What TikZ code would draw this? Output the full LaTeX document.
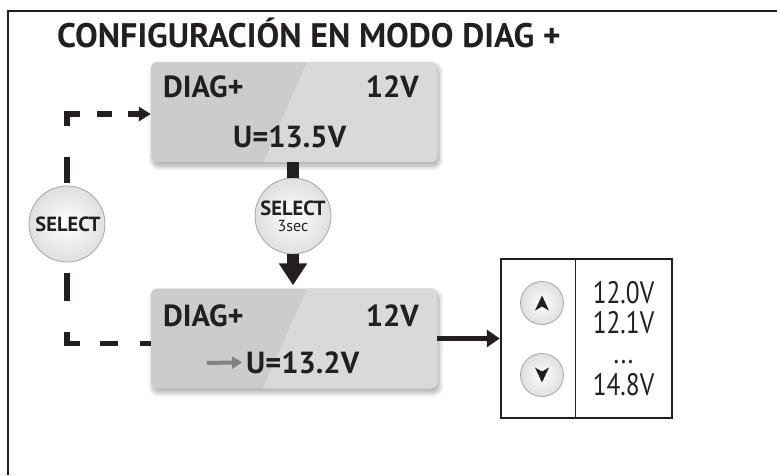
\documentclass[tikz,border=0pt]{standalone}
\usepackage{fontspec}
\setmainfont{PT Sans}
\usetikzlibrary{arrows.meta,shadows.blur,calc}
\definecolor{ink}{HTML}{231F20}
\definecolor{lcdA}{HTML}{CBCCCE}
\definecolor{lcdB}{HTML}{D8D9DB}
\definecolor{grayarr}{HTML}{808285}
\tikzset{
  lcd/.style={rectangle, rounded corners=6pt, minimum width=286pt, minimum height=100pt, inner sep=0pt, fill=lcdA,
    blur shadow={shadow xshift=2pt, shadow yshift=-4pt, shadow blur steps=10, shadow opacity=35, shadow blur radius=5pt}},
  btn/.style={circle, draw=gray!70, line width=0.8pt, inner color=white, outer color=gray!25, inner sep=0pt, text=ink},
  lcdtxt/.style={font=\fontsize{30.5}{30}\selectfont\bfseries, text=ink, inner sep=0pt},
  lsttxt/.style={font=\fontsize{31}{31}\selectfont, text=ink, inner sep=0pt, anchor=base},
  btntxt/.style={font=\fontsize{20.5}{20}\selectfont\bfseries, text=ink, inner sep=0pt, anchor=base},
  dashln/.style={draw=ink, line width=5.5pt, line cap=butt, miter limit=10},
  thick arrow/.style={draw=ink, line width=12pt},
}
\begin{document}
\begin{tikzpicture}[x=1pt,y=-1pt]
\useasboundingbox (0,0) rectangle (777,475);
% frame
\draw[ink, line width=2.5pt] (777,11) -- (8,11) -- (8,475);
% title
\node[anchor=base west, font=\fontsize{34}{34}\selectfont\bfseries, text=ink, inner sep=0pt] (title) at (57,47) {CONFIGURACIÓN EN MODO DIAG +};

% upper display
\node[lcd] (lcd1) at (294,112) {};
\begin{scope}
  \clip[rounded corners=6pt] (lcd1.south west) rectangle (lcd1.north east);
  \fill[lcdB] (312,50) -- (258,175) -- (450,175) -- (450,50) -- cycle;
\end{scope}
\node[lcdtxt, anchor=base west] (d1) at (163,97) {DIAG+};
\node[lcdtxt, anchor=base east] (v1) at (419,97) {12V};
\node[lcdtxt, anchor=base west] (u1) at (233,147) {U=13.5V};

% lower display
\node[lcd] (lcd2) at (294,338.5) {};
\begin{scope}
  \clip[rounded corners=6pt] (lcd2.south west) rectangle (lcd2.north east);
  \fill[lcdB] (312,277) -- (258,400) -- (450,400) -- (450,277) -- cycle;
\end{scope}
\node[lcdtxt, anchor=base west] (d2) at (163,326) {DIAG+};
\node[lcdtxt, anchor=base east] (v2) at (419,326) {12V};
\node[lcdtxt, anchor=base west] (u2) at (246,373) {U=13.2V};
\coordinate (ga) at (207,363);
\draw[grayarr, line width=4pt, -{Triangle[length=10pt,width=12pt]}] (ga) -- ([xshift=-4pt]u2.west);

% select 3 sec button
\node[btn, minimum size=76pt] (s2) at (293,216) {};
\node[btntxt] (s2a) at (293,215) {SELECT};
\node[btntxt, font=\fontsize{16}{16}\selectfont] (s2b) at (293,231) {3sec};
\draw[thick arrow] (s2.north) -- (s2.north |- lcd1.south);
\draw[thick arrow, -{Triangle[length=22pt,width=27pt]}, shorten >=3pt] (s2.south) -- (s2.south |- lcd2.north);

% left select button
\node[btn, minimum size=76pt] (s1) at (67,224) {};
\node[btntxt] (s1a) at (68,231) {SELECT};
\draw[dashln, dash pattern=on 0pt off 3pt on 26pt off 31pt on 25pt off 17pt on 15pt off 16pt on 60pt,
      -{Triangle[length=12pt,width=14pt]}]
  (s1.north) |- ([yshift=-2pt]lcd1.west);
\draw[dashln, dash pattern=on 0pt off 11pt on 28pt off 31pt on 24.5pt off 20pt on 18pt off 22pt on 40pt]
  (s1.south) |- ([yshift=-5pt]lcd2.west);

% list box
\node[draw=ink, line width=2.5pt, minimum width=171pt, minimum height=159pt, inner sep=0pt] (list) at (586.5,338.5) {};
\coordinate (dv) at (575,0);
\draw[ink, line width=1pt] (list.north -| dv) -- (list.south -| dv);
\draw[ink, line width=5.5pt, -{Triangle[length=13pt,width=17pt]}] (lcd2.east) -- (lcd2.east -| list.west);

\node[btn, minimum size=43pt] (up) at (542,303) {};
\node[btn, minimum size=43pt] (dn) at (542,375) {};
\fill[ink] ($(up.center)+(0,-7.5)$) -- ++(7,15) -- ++(-7,-4) -- ++(-7,4) -- cycle;
\fill[ink] ($(dn.center)+(0,7.5)$) -- ++(7,-15) -- ++(-7,4) -- ++(-7,-4) -- cycle;

\node[lsttxt] (l1) at (623.5,303) {\scalebox{0.82}[1]{12.0V}};
\node[lsttxt] (l2) at (623.5,333) {\scalebox{0.82}[1]{12.1V}};
\node[lsttxt] (l3) at (623.5,363) {\scalebox{0.82}[1]{...}};
\node[lsttxt] (l4) at (623.5,395) {\scalebox{0.82}[1]{14.8V}};
\end{tikzpicture}
\end{document}
